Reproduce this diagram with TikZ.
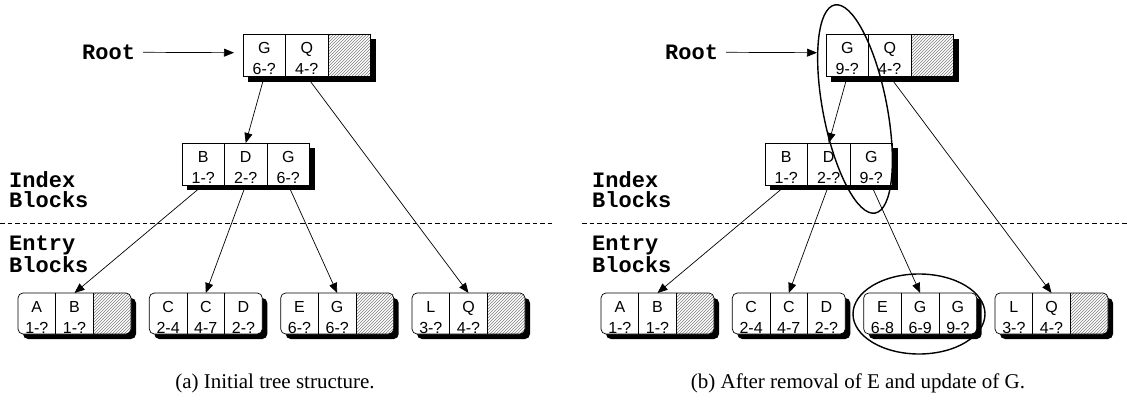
\documentclass[tikz,border=0pt]{standalone}
\usepackage{fontspec}
\setmainfont{Liberation Serif}
\setsansfont{Liberation Sans}
\setmonofont{Liberation Mono}
\usetikzlibrary{arrows.meta,patterns,shapes.geometric}
\pgfdeclarelayer{bg}
\pgfsetlayers{bg,main}

\tikzset{
  bord/.style={line width=0.7pt},
  sqcell/.style={draw, fill=white, line width=0.7pt, minimum width=42.5pt, minimum height=42pt, inner sep=0pt, outer sep=0pt},
  ecell/.style={minimum width=37.67pt, minimum height=41pt, inner sep=0pt, outer sep=0pt},
  hatch/.style={pattern=north east lines, pattern color=gray},
  celltxt/.style={font=\sffamily\fontsize{16}{19}\selectfont, inner sep=0pt},
  lbl/.style={font=\ttfamily\bfseries\fontsize{22}{20.5}\selectfont, align=left, inner sep=0pt},
  captext/.style={font=\fontsize{21}{24}\selectfont, inner sep=0pt},
  arr/.style={-{Triangle[length=10pt,width=8pt]}, line width=0.7pt},
  ell/.style={draw, ellipse, line width=1.4pt, inner sep=0pt},
  sepline/.style={line width=0.7pt, dash pattern=on 4.5pt off 3pt}
}

\newcommand\sqblk[3]{%
  \node[sqcell] (#1x) at (#2+21.25,#3+21) {};
  \node[sqcell] (#1y) at (#2+63.75,#3+21) {};
  \node[sqcell] (#1z) at (#2+106.25,#3+21) {};
  \begin{pgfonlayer}{bg}
    \fill ([shift={(5,5)}]#1x.north west) rectangle ([shift={(5,5)}]#1z.south east);
  \end{pgfonlayer}}
\newcommand\sqhatch[1]{%
  \fill[hatch] (#1z.north west) rectangle (#1z.south east);
  \draw[bord] (#1z.north west) rectangle (#1z.south east);}
\newcommand\eblk[2]{%
  \node[ecell] (#1x) at (#2+18.83,313.5) {};
  \node[ecell] (#1y) at (#2+56.5,313.5) {};
  \node[ecell] (#1z) at (#2+94.17,313.5) {};
  \begin{pgfonlayer}{bg}
    \fill[rounded corners=5pt] ([shift={(5,5)}]#1x.north west) rectangle ([shift={(5,5)}]#1z.south east);
    \fill[white, rounded corners=5pt] (#1x.north west) rectangle (#1z.south east);
  \end{pgfonlayer}
  \draw[bord, rounded corners=5pt] (#1x.north west) rectangle (#1z.south east);
  \draw[bord] (#1x.north east) -- (#1x.south east) (#1y.north east) -- (#1y.south east);}
\newcommand\ehatch[1]{%
  \begin{pgfonlayer}{bg}
    \begin{scope}
      \clip[rounded corners=5pt] (#1x.north west) rectangle (#1z.south east);
      \fill[hatch] (#1z.north west) rectangle (#1z.south east);
    \end{scope}
  \end{pgfonlayer}}
\newcommand\ctext[3]{%
  \node[celltxt, anchor=base] (#1a) at ([yshift=-19.3pt]#1.north) {#2};
  \node[celltxt, anchor=base] (#1b) at ([yshift=-40.3pt]#1.north) {#3};}

\begin{document}
\begin{tikzpicture}[x=1pt, y=-1pt]
\useasboundingbox (0,0) rectangle (1127,404);

% ---------------- left panel ----------------
\sqblk{Lr}{243}{34.5}
\sqhatch{Lr}
\ctext{Lrx}{G}{6-?}
\ctext{Lry}{Q}{4-?}
\sqblk{Li}{182}{143}
\ctext{Lix}{B}{1-?}
\ctext{Liy}{D}{2-?}
\ctext{Liz}{G}{6-?}
\eblk{La}{18}\ehatch{La}
\ctext{Lax}{A}{1-?}
\ctext{Lay}{B}{1-?}
\eblk{Lb}{149.3}
\ctext{Lbx}{C}{2-4}
\ctext{Lby}{C}{4-7}
\ctext{Lbz}{D}{2-?}
\eblk{Lc}{280.7}\ehatch{Lc}
\ctext{Lcx}{E}{6-?}
\ctext{Lcy}{G}{6-?}
\eblk{Ld}{412}\ehatch{Ld}
\ctext{Ldx}{L}{3-?}
\ctext{Ldy}{Q}{4-?}

\node[lbl, anchor=west] (LrootL) at (82,52.3) {Root};
\coordinate (LrootT) at (234,52.7);
\draw[arr] ([xshift=8pt]LrootL.east) -- (LrootT);
\node[lbl, anchor=west] (LidxL) at (9,189.8) {Index\\Blocks};
\node[lbl, anchor=west] (LentL) at (9,254.5) {Entry\\Blocks};
\draw[sepline] (0,223) -- (552,223);

\draw[arr] (Lrx.south) -- (Liy.north);
\draw[arr] (Lry.south) -- (Ldy.north);
\draw[arr] (Lix.south) -- (Lay.north);
\draw[arr] (Liy.south) -- (Lby.north);
\draw[arr] (Liz.south) -- (Lcy.north);

\node[captext] (capA) at (275,383) {(a) Initial tree structure.};

% ---------------- right panel ----------------
\sqblk{Rr}{826}{34.5}
\sqhatch{Rr}
\ctext{Rrx}{G}{9-?}
\ctext{Rry}{Q}{4-?}
\sqblk{Ri}{765}{143}
\ctext{Rix}{B}{1-?}
\ctext{Riy}{D}{2-?}
\ctext{Riz}{G}{9-?}
\eblk{Ra}{601}\ehatch{Ra}
\ctext{Rax}{A}{1-?}
\ctext{Ray}{B}{1-?}
\eblk{Rb}{732.3}
\ctext{Rbx}{C}{2-4}
\ctext{Rby}{C}{4-7}
\ctext{Rbz}{D}{2-?}
\eblk{Rc}{863.7}
\ctext{Rcx}{E}{6-8}
\ctext{Rcy}{G}{6-9}
\ctext{Rcz}{G}{9-?}
\eblk{Rd}{995}\ehatch{Rd}
\ctext{Rdx}{L}{3-?}
\ctext{Rdy}{Q}{4-?}

\node[lbl, anchor=west] (RrootL) at (665,52.3) {Root};
\coordinate (RrootT) at (817,52.7);
\draw[arr] ([xshift=8pt]RrootL.east) -- (RrootT);
\node[lbl, anchor=west] (RidxL) at (592,189.8) {Index\\Blocks};
\node[lbl, anchor=west] (RentL) at (592,254.5) {Entry\\Blocks};
\draw[sepline] (582,223) -- (1127,223);

\draw[arr] (Rrx.south) -- (Riy.north);
\draw[arr] (Rry.south) -- (Rdy.north);
\draw[arr] (Rix.south) -- (Ray.north);
\draw[arr] (Riy.south) -- (Rby.north);
\draw[arr] (Riz.south) -- (Rcy.north);

\node[ell, minimum width=64pt, minimum height=212pt, rotate=11] (E1) at (855,109) {};
\node[ell, minimum width=132pt, minimum height=80pt] (E2) at (919,314) {};

\node[captext] (capB) at (858,383) {(b) After removal of E and update of G.};
\end{tikzpicture}
\end{document}
